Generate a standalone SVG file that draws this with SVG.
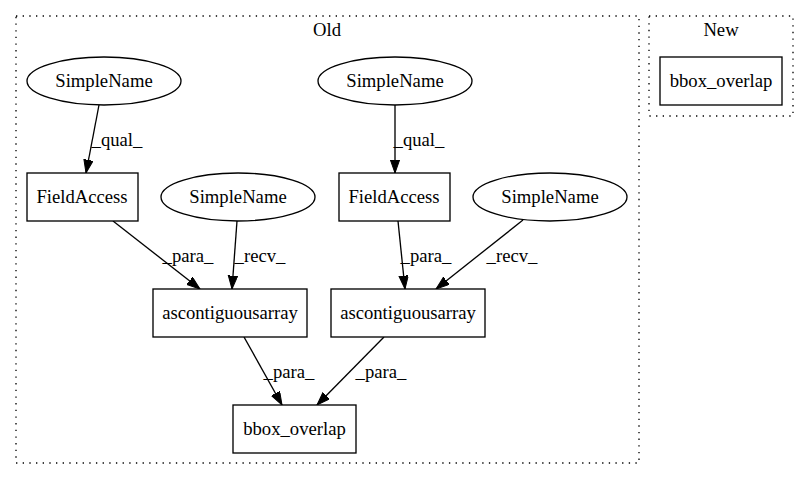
<svg xmlns="http://www.w3.org/2000/svg" width="809" height="480" viewBox="0 0 809 480">
<style>
text{font-family:"Liberation Serif","Times New Roman",serif;font-size:18.67px;fill:#000;text-anchor:middle}
.n{fill:#fff;stroke:#000;stroke-width:1.33}
.c{fill:none;stroke:#000;stroke-width:1.33;stroke-dasharray:1.33,5.33}
.e{fill:none;stroke:#000;stroke-width:1.33;marker-end:url(#ah)}
</style>
<defs>
<marker id="ah" markerUnits="userSpaceOnUse" markerWidth="15" markerHeight="11" refX="13.3" refY="4.7" orient="auto">
<path d="M0,0 L13.3,4.7 L0,9.4 z" fill="#000" stroke="#000" stroke-width="1"/>
</marker>
</defs>
<rect width="809" height="480" fill="#fff"/>
<g id="cluster_old">
<rect class="c" x="16" y="16" width="623" height="447"/>
<text x="327" y="36">Old</text>
</g>
<g id="cluster_new">
<rect class="c" x="649" y="16" width="144" height="100"/>
<text x="721" y="36">New</text>
</g>
<g id="edges">
<line class="e" x1="99" y1="105" x2="86" y2="173"/>
<text x="117" y="146">_qual_</text>
<line class="e" x1="395" y1="105" x2="395" y2="173"/>
<text x="419" y="146">_qual_</text>
<line class="e" x1="113" y1="221" x2="200" y2="289"/>
<text x="188" y="262">_para_</text>
<line class="e" x1="237" y1="221" x2="232" y2="289"/>
<text x="260" y="262">_recv_</text>
<line class="e" x1="398" y1="221" x2="405" y2="289"/>
<text x="426" y="262">_para_</text>
<line class="e" x1="523" y1="220" x2="436" y2="289"/>
<text x="512" y="262">_recv_</text>
<line class="e" x1="244" y1="337" x2="282" y2="405"/>
<text x="289" y="378">_para_</text>
<line class="e" x1="384" y1="337" x2="317" y2="405"/>
<text x="381" y="378">_para_</text>
</g>
<g id="sn1"><ellipse class="n" cx="104" cy="81" rx="77" ry="24"/><text x="104" y="87">SimpleName</text></g>
<g id="sn2"><ellipse class="n" cx="395" cy="81" rx="77" ry="24"/><text x="395" y="87">SimpleName</text></g>
<g id="fa1"><rect class="n" x="27" y="173" width="111" height="48"/><text x="82" y="203">FieldAccess</text></g>
<g id="sn3"><ellipse class="n" cx="238" cy="197" rx="77" ry="24"/><text x="238" y="203">SimpleName</text></g>
<g id="fa2"><rect class="n" x="339" y="173" width="111" height="48"/><text x="394" y="203">FieldAccess</text></g>
<g id="sn4"><ellipse class="n" cx="550" cy="197" rx="77" ry="24"/><text x="550" y="203">SimpleName</text></g>
<g id="asc1"><rect class="n" x="153" y="289" width="154" height="48"/><text x="230" y="319">ascontiguousarray</text></g>
<g id="asc2"><rect class="n" x="331" y="289" width="154" height="48"/><text x="408" y="319">ascontiguousarray</text></g>
<g id="bbox_old"><rect class="n" x="233" y="405" width="123" height="48"/><text x="294.5" y="435">bbox_overlap</text></g>
<g id="bbox_new"><rect class="n" x="660" y="57" width="122" height="48"/><text x="721" y="87">bbox_overlap</text></g>
</svg>
